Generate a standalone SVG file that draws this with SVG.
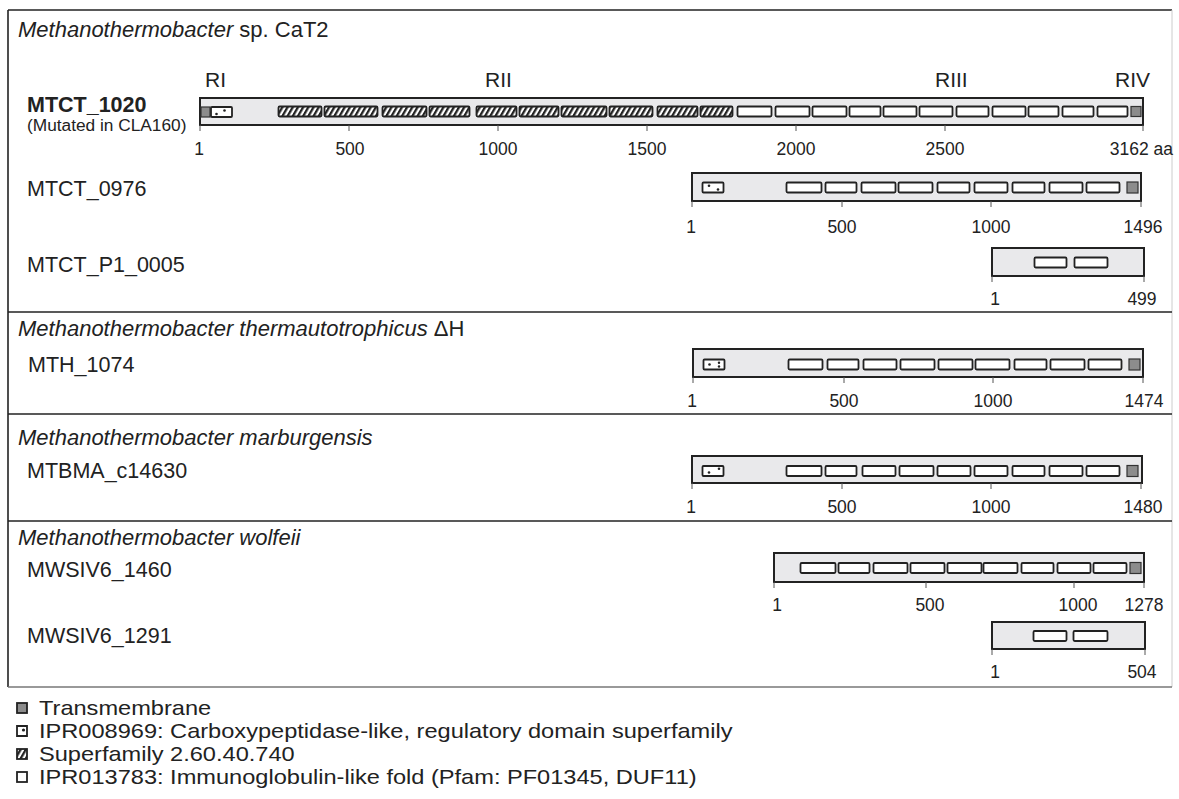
<svg xmlns="http://www.w3.org/2000/svg" width="1179" height="799" viewBox="0 0 1179 799">
<style>
text{font-family:"Liberation Sans",Arial,Helvetica,sans-serif;fill:#222}
.title{font-size:22px}
.it{font-style:italic}
.gene{font-size:21.5px}
.bold{font-weight:bold}
.sub{font-size:17.3px}
.reg{font-size:21px}
.tk{font-size:17.5px;text-anchor:middle}
.leg{font-size:20px}
.bar{fill:#e9e9eb;stroke:#222;stroke-width:2}
.ig{fill:#fff;stroke:#222;stroke-width:1.8}
.hx{fill:url(#hatch);stroke:#222;stroke-width:1.8}
.tm{fill:#8c8c8c;stroke:#333;stroke-width:1.2}
.cp{fill:#fff;stroke:#222;stroke-width:1.8}
.dot{fill:#222}
.tick{stroke:#555;stroke-width:1}
.frame{stroke:#222;stroke-width:1.6;fill:none}
</style>
<defs>
<pattern id="hatch" width="4.5" height="4.5" patternUnits="userSpaceOnUse" patternTransform="rotate(30)">
<rect width="4.5" height="4.5" fill="#fff"/>
<rect width="2.3" height="4.5" fill="#222"/>
</pattern>
</defs>
<rect x="0" y="0" width="1179" height="799" fill="#fff"/>
<g id="frame">
<line class="frame" x1="8" y1="10" x2="1172" y2="10"/>
<line class="frame" x1="8" y1="10" x2="8" y2="687"/>
<line x1="1172" y1="10" x2="1172" y2="687" stroke="#ccc" stroke-width="1"/>
<line class="frame" x1="8" y1="312" x2="1172" y2="312"/>
<line class="frame" x1="8" y1="414" x2="1172" y2="414"/>
<line class="frame" x1="8" y1="521" x2="1172" y2="521"/>
<line x1="8" y1="687" x2="1172" y2="687" stroke="#777" stroke-width="1.6"/>
</g>
<g id="titles">
<text class="title" x="18" y="37"><tspan class="it">Methanothermobacter</tspan> sp. CaT2</text>
<text class="title" x="18" y="336"><tspan class="it">Methanothermobacter thermautotrophicus</tspan> ΔH</text>
<text class="title it" x="18" y="445">Methanothermobacter marburgensis</text>
<text class="title it" x="18" y="545">Methanothermobacter wolfeii</text>
</g>
<g id="MTCT_1020">
<text class="gene bold" x="27" y="111.5">MTCT_1020</text>
<text class="sub" x="27" y="130.5">(Mutated in CLA160)</text>
<text class="reg" x="205" y="87">RI</text>
<text class="reg" x="485" y="87">RII</text>
<text class="reg" x="935" y="87">RIII</text>
<text class="reg" x="1115" y="87">RIV</text>
<rect class="bar" x="200" y="98" width="943" height="27"/>
<rect class="tm" x="201" y="107" width="9" height="10"/>
<rect class="cp" x="211" y="107" width="21" height="10" rx="1"/>
<circle class="dot" cx="216.5" cy="114" r="1.3"/><circle class="dot" cx="224.5" cy="110.5" r="1.3"/>
<g>
<rect class="hx" x="278.5" y="106.5" width="43" height="10" rx="1.2"/>
<rect class="hx" x="324.5" y="106.5" width="53" height="10" rx="1.2"/>
<rect class="hx" x="382.5" y="106.5" width="44" height="10" rx="1.2"/>
<rect class="hx" x="429.5" y="106.5" width="40" height="10" rx="1.2"/>
<rect class="hx" x="476.5" y="106.5" width="40" height="10" rx="1.2"/>
<rect class="hx" x="519.5" y="106.5" width="39" height="10" rx="1.2"/>
<rect class="hx" x="561.5" y="106.5" width="45" height="10" rx="1.2"/>
<rect class="hx" x="609.5" y="106.5" width="43" height="10" rx="1.2"/>
<rect class="hx" x="657.5" y="106.5" width="40" height="10" rx="1.2"/>
<rect class="hx" x="700.5" y="106.5" width="32" height="10" rx="1.2"/>
</g>
<g>
<rect class="ig" x="737.5" y="106.5" width="34" height="10" rx="1.2"/>
<rect class="ig" x="775.5" y="106.5" width="34" height="10" rx="1.2"/>
<rect class="ig" x="812.5" y="106.5" width="34" height="10" rx="1.2"/>
<rect class="ig" x="849.5" y="106.5" width="31" height="10" rx="1.2"/>
<rect class="ig" x="883.5" y="106.5" width="33" height="10" rx="1.2"/>
<rect class="ig" x="919.5" y="106.5" width="33" height="10" rx="1.2"/>
<rect class="ig" x="956.5" y="106.5" width="32" height="10" rx="1.2"/>
<rect class="ig" x="992.5" y="106.5" width="33" height="10" rx="1.2"/>
<rect class="ig" x="1028.5" y="106.5" width="30" height="10" rx="1.2"/>
<rect class="ig" x="1062.5" y="106.5" width="31" height="10" rx="1.2"/>
<rect class="ig" x="1097.5" y="106.5" width="30" height="10" rx="1.2"/>
</g>
<rect class="tm" x="1131" y="106.5" width="10" height="10"/>
<path class="tick" d="M200 125v6M349 125v6M498 125v6M647 125v6M796 125v6M945 125v6M1143 125v6"/>
<text class="tk" x="199" y="155">1</text>
<text class="tk" x="350" y="155">500</text>
<text class="tk" x="498" y="155">1000</text>
<text class="tk" x="647" y="155">1500</text>
<text class="tk" x="796" y="155">2000</text>
<text class="tk" x="945" y="155">2500</text>
<text class="tk" x="1173" y="155" style="text-anchor:end">3162 aa</text>
</g>
<g id="MTCT_0976">
<text class="gene" x="27" y="196">MTCT_0976</text>
<rect class="bar" x="692" y="173" width="449" height="28"/>
<rect class="cp" x="702.5" y="182.5" width="21" height="10" rx="1"/>
<circle class="dot" cx="709" cy="185.8" r="1.3"/><circle class="dot" cx="718" cy="189.5" r="1.3"/>
<rect class="ig" x="786.5" y="182.5" width="35" height="10" rx="1.2"/>
<rect class="ig" x="825.5" y="182.5" width="31" height="10" rx="1.2"/>
<rect class="ig" x="861.5" y="182.5" width="34" height="10" rx="1.2"/>
<rect class="ig" x="898.5" y="182.5" width="34" height="10" rx="1.2"/>
<rect class="ig" x="937.5" y="182.5" width="32" height="10" rx="1.2"/>
<rect class="ig" x="974.5" y="182.5" width="33" height="10" rx="1.2"/>
<rect class="ig" x="1012.5" y="182.5" width="32" height="10" rx="1.2"/>
<rect class="ig" x="1049.5" y="182.5" width="33" height="10" rx="1.2"/>
<rect class="ig" x="1086.5" y="182.5" width="33" height="10" rx="1.2"/>
<rect class="tm" x="1127" y="182" width="11" height="11"/>
<path class="tick" d="M692 201v6M842 201v6M991 201v6M1141 201v6"/>
<text class="tk" x="691" y="233">1</text>
<text class="tk" x="842" y="233">500</text>
<text class="tk" x="991" y="233">1000</text>
<text class="tk" x="1143" y="233">1496</text>
</g>
<g id="MTCT_P1_0005">
<text class="gene" x="27" y="272">MTCT_P1_0005</text>
<rect class="bar" x="992" y="248" width="152" height="28"/>
<rect class="ig" x="1034.5" y="257.5" width="32" height="10" rx="1.2"/>
<rect class="ig" x="1074.5" y="257.5" width="33" height="10" rx="1.2"/>
<path class="tick" d="M992 276v6M1144 276v6"/>
<text class="tk" x="995" y="305">1</text>
<text class="tk" x="1142" y="305">499</text>
</g>
<g id="MTH_1074">
<text class="gene" x="28" y="372">MTH_1074</text>
<rect class="bar" x="693" y="349" width="450" height="28"/>
<rect class="cp" x="703.5" y="359.5" width="21" height="10" rx="1"/>
<circle class="dot" cx="709.5" cy="364.5" r="1.3"/><circle class="dot" cx="719" cy="362.8" r="1.2"/><circle class="dot" cx="719" cy="366.5" r="1.2"/>
<rect class="ig" x="788.5" y="359.5" width="34" height="10" rx="1.2"/>
<rect class="ig" x="827.5" y="359.5" width="31" height="10" rx="1.2"/>
<rect class="ig" x="863.5" y="359.5" width="33" height="10" rx="1.2"/>
<rect class="ig" x="900.5" y="359.5" width="34" height="10" rx="1.2"/>
<rect class="ig" x="938.5" y="359.5" width="34" height="10" rx="1.2"/>
<rect class="ig" x="975.5" y="359.5" width="34" height="10" rx="1.2"/>
<rect class="ig" x="1014.5" y="359.5" width="32" height="10" rx="1.2"/>
<rect class="ig" x="1050.5" y="359.5" width="34" height="10" rx="1.2"/>
<rect class="ig" x="1088.5" y="359.5" width="33" height="10" rx="1.2"/>
<rect class="tm" x="1129" y="359" width="11" height="11"/>
<path class="tick" d="M693 377v6M844 377v6M993 377v6M1143 377v6"/>
<text class="tk" x="692" y="407">1</text>
<text class="tk" x="844" y="407">500</text>
<text class="tk" x="993" y="407">1000</text>
<text class="tk" x="1144" y="407">1474</text>
</g>
<g id="MTBMA_c14630">
<text class="gene" x="27" y="478">MTBMA_c14630</text>
<rect class="bar" x="692" y="456" width="450" height="27"/>
<rect class="cp" x="702.5" y="466" width="21" height="10" rx="1"/>
<circle class="dot" cx="709" cy="472.5" r="1.3"/><circle class="dot" cx="719" cy="468.8" r="1.3"/>
<rect class="ig" x="786.5" y="466" width="35" height="10" rx="1.2"/>
<rect class="ig" x="825.5" y="466" width="31" height="10" rx="1.2"/>
<rect class="ig" x="862.5" y="466" width="33" height="10" rx="1.2"/>
<rect class="ig" x="899.5" y="466" width="34" height="10" rx="1.2"/>
<rect class="ig" x="937.5" y="466" width="33" height="10" rx="1.2"/>
<rect class="ig" x="974.5" y="466" width="33" height="10" rx="1.2"/>
<rect class="ig" x="1012.5" y="466" width="32" height="10" rx="1.2"/>
<rect class="ig" x="1049.5" y="466" width="33" height="10" rx="1.2"/>
<rect class="ig" x="1086.5" y="466" width="33" height="10" rx="1.2"/>
<rect class="tm" x="1127" y="465.5" width="11" height="11"/>
<path class="tick" d="M692 483v6M842 483v6M991 483v6M1141 483v6"/>
<text class="tk" x="691" y="513">1</text>
<text class="tk" x="842" y="513">500</text>
<text class="tk" x="991" y="513">1000</text>
<text class="tk" x="1143" y="513">1480</text>
</g>
<g id="MWSIV6_1460">
<text class="gene" x="27" y="577">MWSIV6_1460</text>
<rect class="bar" x="774" y="553" width="370" height="29"/>
<rect class="ig" x="800.5" y="563" width="35" height="10" rx="1.2"/>
<rect class="ig" x="838.5" y="563" width="31" height="10" rx="1.2"/>
<rect class="ig" x="873.5" y="563" width="34" height="10" rx="1.2"/>
<rect class="ig" x="910.5" y="563" width="34" height="10" rx="1.2"/>
<rect class="ig" x="947.5" y="563" width="34" height="10" rx="1.2"/>
<rect class="ig" x="983.5" y="563" width="34" height="10" rx="1.2"/>
<rect class="ig" x="1021.5" y="563" width="32" height="10" rx="1.2"/>
<rect class="ig" x="1057.5" y="563" width="33" height="10" rx="1.2"/>
<rect class="ig" x="1093.5" y="563" width="33" height="10" rx="1.2"/>
<rect class="tm" x="1130" y="562.5" width="11" height="11"/>
<path class="tick" d="M774 582v6M926 582v6M1074 582v6M1144 582v6"/>
<text class="tk" x="777" y="611">1</text>
<text class="tk" x="930" y="611">500</text>
<text class="tk" x="1078" y="611">1000</text>
<text class="tk" x="1144" y="611">1278</text>
</g>
<g id="MWSIV6_1291">
<text class="gene" x="27" y="643">MWSIV6_1291</text>
<rect class="bar" x="992" y="622" width="153" height="27"/>
<rect class="ig" x="1033.5" y="631" width="33" height="10" rx="1.2"/>
<rect class="ig" x="1073.5" y="631" width="34" height="10" rx="1.2"/>
<path class="tick" d="M992 649v6M1145 649v6"/>
<text class="tk" x="995" y="678">1</text>
<text class="tk" x="1142" y="678">504</text>
</g>
<g id="legend">
<rect class="tm" x="17" y="703" width="10" height="10" style="stroke-width:1.8;stroke:#222"/>
<path d="M17 726h10v10h-10z" fill="#fff" stroke="#222" stroke-width="1.8"/>
<circle class="dot" cx="23.5" cy="730" r="1.6"/>
<rect class="hx" x="17" y="749" width="10" height="10" style="stroke-width:1.8"/>
<rect class="ig" x="17" y="772" width="10" height="10" style="stroke-width:1.8"/>
<g transform="translate(39 0) scale(1.18 1)">
<text class="leg" x="0" y="715">Transmembrane</text>
<text class="leg" x="0" y="738">IPR008969: Carboxypeptidase-like, regulatory domain superfamily</text>
<text class="leg" x="0" y="761">Superfamily 2.60.40.740</text>
<text class="leg" x="0" y="784">IPR013783: Immunoglobulin-like fold (Pfam: PF01345, DUF11)</text>
</g>
</g>
</svg>
